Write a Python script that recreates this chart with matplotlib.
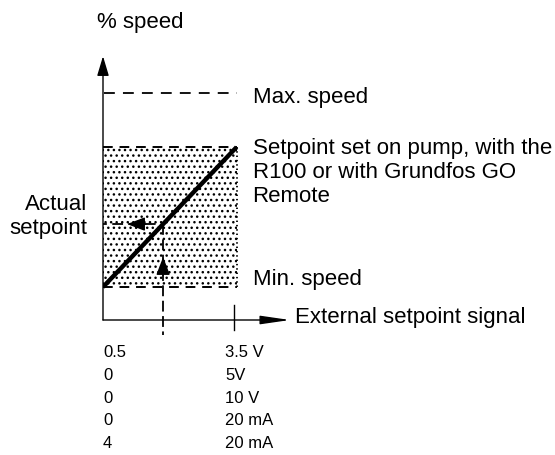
import matplotlib
matplotlib.use("Agg")
from matplotlib import pyplot as plt
from matplotlib.patches import Rectangle

plt.rcParams['font.family'] = ['Liberation Sans', 'DejaVu Sans']
plt.rcParams['hatch.linewidth'] = 1.0

# signal in % of input range, speed in % of max
min_speed = 14.5
setpoint_top = 76
max_speed = 100
signal_range = (0, 100)
actual_signal = 45
actual_setpoint = min_speed + (setpoint_top - min_speed) * actual_signal / 100

signal_low = ["0.5", "0", "0", "0", "4"]
signal_high = ["3.5 V", "5V", "10 V", "20 mA", "20 mA"]

fig = plt.figure(figsize=(5.55, 4.55), dpi=100)
ax = fig.add_axes([103 / 555, 135 / 455, 187 / 555, 257 / 455])
ax.set_xlim(0, 140)
ax.set_ylim(0, 113)
ax.set_axis_off()

# axes with arrow heads
arrow = dict(arrowstyle="-|>,head_length=1.2,head_width=0.36", color="black", lw=1.0,
             shrinkA=0, shrinkB=0)
ax.annotate("", xy=(0, 116), xytext=(0, 0), arrowprops=arrow, annotation_clip=False)
ax.annotate("", xy=(140, 0), xytext=(0, 0),
            arrowprops=dict(arrow, arrowstyle="-|>,head_length=1.8,head_width=0.26"),
            annotation_clip=False)

# setpoint range box
ax.add_patch(Rectangle((signal_range[0], min_speed), signal_range[1], setpoint_top - min_speed,
                       facecolor="none", edgecolor="black", lw=0, hatch="...", zorder=1))
ax.plot([0, 100], [setpoint_top] * 2, color="black", lw=1.4, dashes=(5, 3.5))
ax.plot([0, 100], [min_speed] * 2, color="black", lw=1.4, dashes=(5, 3.5))
ax.plot([100, 100], [min_speed, setpoint_top], color="black", lw=1.3, dashes=(0.8, 1.6))

# max speed
ax.plot([1, 100], [max_speed] * 2, color="black", lw=1.3, dashes=(6, 4.5))

# setpoint curve
ax.plot([0, 100], [min_speed, setpoint_top], color="black", lw=3.2,
        solid_capstyle="butt", zorder=4)

# actual setpoint read-off
ax.plot([-5, actual_signal], [actual_setpoint] * 2, color="black", lw=1.3, dashes=(6, 3), zorder=3)
ax.plot([actual_signal] * 2, [actual_setpoint, -6.5], color="black", lw=1.3, dashes=(6, 2.5),
        zorder=3, clip_on=False)
head = dict(arrowstyle="-|>,head_length=1.1,head_width=0.42", color="black", lw=1.0,
            shrinkA=0, shrinkB=0)
ax.annotate("", xy=(18, actual_setpoint), xytext=(32, actual_setpoint), arrowprops=head)
ax.annotate("", xy=(actual_signal, 27.7), xytext=(actual_signal, 19.5), arrowprops=head)

# end tick on the signal axis
ax.plot([98, 98], [6.5, -4.5], color="black", lw=1.0, clip_on=False)

fs = 16
ax.text(-4.5, 131, "% speed", fontsize=fs, va="center", ha="left")
ax.text(112, max_speed - 2, "Max. speed", fontsize=fs, va="center")
ax.text(112, 65, "Setpoint set on pump, with the\nR100 or with Grundfos GO\nRemote",
        fontsize=fs, va="center", linespacing=1.18)
ax.text(112, 17.6, "Min. speed", fontsize=fs, va="center")
ax.text(143.7, 1.3, "External setpoint signal", fontsize=fs, va="center")
ax.text(-11.5, 45.5, "Actual\nsetpoint", fontsize=fs, va="center", ha="right",
        multialignment="right", linespacing=1.22)

row_y = [-14.5, -24.2, -34.7, -44.4, -54.1]
for y, lo, hi in zip(row_y, signal_low, signal_high):
    ax.text(0, y, lo, fontsize=12, va="center", ha="left", clip_on=False)
    ax.text(91.3, y, hi, fontsize=12, va="center", ha="left", clip_on=False)

plt.savefig("out.png", dpi=100)
